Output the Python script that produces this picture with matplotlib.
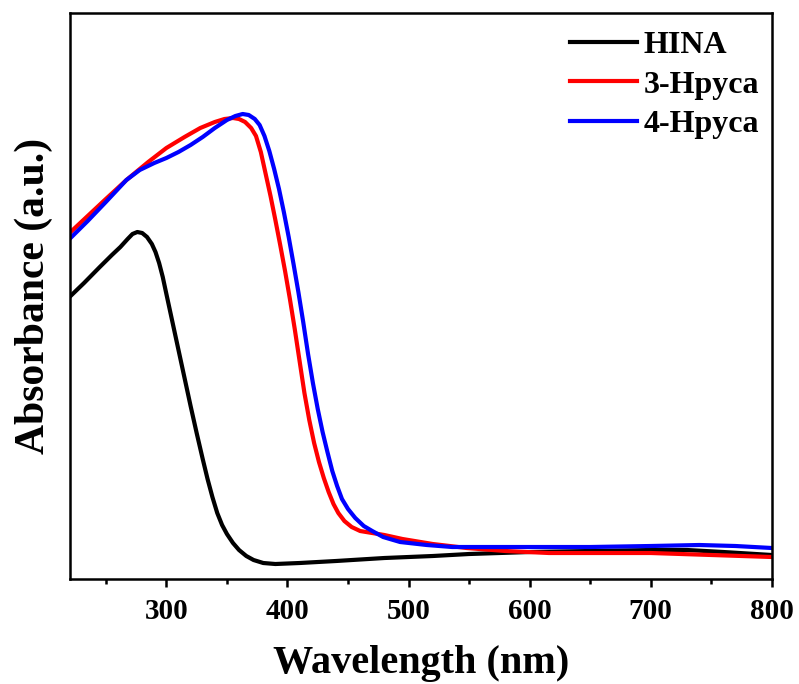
import matplotlib
matplotlib.use("Agg")
import matplotlib.pyplot as plt
from matplotlib.ticker import MultipleLocator

plt.rcParams['font.family'] = ['Liberation Serif', 'DejaVu Serif']
plt.rcParams['font.weight'] = 'bold'

# UV-vis absorbance spectra (arbitrary units)
hina_nm = [220, 232, 245, 255, 262, 268, 272, 276, 280, 284, 288, 291, 294, 297,
           300, 305, 310, 315, 320, 325, 330, 334, 338, 342, 346, 350, 355, 360,
           366, 372, 380, 390, 410, 440, 480, 520, 550, 600, 650, 700, 730, 760, 800]
hina_abs = [282, 296, 312, 324, 332, 340, 345, 347, 346, 342, 335, 327, 316, 302,
            285, 257, 229, 201, 173, 146, 120, 100, 82, 66, 54, 45, 36, 29,
            23, 19, 16, 15, 16, 18, 21, 23, 25, 27, 28, 29, 29, 27, 24]

h3_nm = [220, 235, 250, 267, 285, 300, 315, 328, 340, 348, 355, 360, 365, 370,
         374, 378, 382, 386, 390, 394, 398, 402, 406, 410, 414, 418, 422, 426,
         430, 434, 438, 442, 447, 453, 460, 470, 480, 495, 520, 548, 580, 616,
         700, 750, 800]
h3_abs = [346, 363, 380, 399, 417, 431, 442, 451, 457, 460, 461, 460, 457, 451,
          443, 427, 405, 383, 359, 334, 308, 280, 250, 218, 186, 159, 136, 117,
          101, 87, 75, 66, 58, 52, 48, 46, 44, 40, 35, 31, 28, 26,
          26, 24, 22]

h4_nm = [220, 235, 250, 267, 278, 290, 300, 310, 320, 330, 340, 350, 357, 363,
         368, 373, 377, 381, 385, 389, 393, 397, 401, 405, 409, 413, 417, 421,
         425, 429, 433, 437, 441, 445, 450, 456, 463, 470, 479, 493, 515, 536,
         560, 600, 650, 700, 740, 770, 800]
h4_abs = [340, 358, 377, 399, 409, 416, 421, 427, 434, 442, 451, 459, 463, 465,
          464, 460, 454, 443, 428, 410, 390, 367, 342, 315, 287, 257, 225, 196,
          170, 147, 127, 108, 93, 80, 70, 61, 53, 48, 42, 37, 34, 32,
          32, 32, 32, 33, 34, 33, 31]

fig = plt.figure(figsize=(7.99, 6.84), dpi=100)
ax = fig.add_axes([0.087, 0.1535, 0.879, 0.8275])

lw = 3.0
ax.plot(hina_nm, hina_abs, color='black', lw=lw, label='HINA', solid_joinstyle='round')
ax.plot(h3_nm, h3_abs, color='#ff0000', lw=lw, label='3-Hpyca', solid_joinstyle='round')
ax.plot(h4_nm, h4_abs, color='#0000ff', lw=lw, label='4-Hpyca', solid_joinstyle='round')

ax.set_xlim(220, 800)
ax.set_ylim(0, 566)
ax.xaxis.set_major_locator(MultipleLocator(100))
ax.xaxis.set_minor_locator(MultipleLocator(50))
ax.set_yticks([])

for s in ax.spines.values():
    s.set_linewidth(1.8)
ax.tick_params(axis='x', which='major', direction='out', length=6, width=1.8,
               labelsize=21, pad=8)
ax.tick_params(axis='x', which='minor', direction='out', length=3.5, width=1.8)
for t in ax.get_xticklabels():
    t.set_fontweight('bold')

ax.set_xlabel('Wavelength (nm)', fontsize=29, fontweight='bold', labelpad=14)
ax.set_ylabel('Absorbance (a.u.)', fontsize=30, fontweight='bold', labelpad=12)

leg = ax.legend(loc='upper right', bbox_to_anchor=(1.007, 1.0), frameon=False,
                fontsize=23, handlelength=2.1, handletextpad=0.2,
                labelspacing=0.32, borderaxespad=0.15)
for t in leg.get_texts():
    t.set_fontweight('bold')

fig.savefig('out.png', dpi=100)
